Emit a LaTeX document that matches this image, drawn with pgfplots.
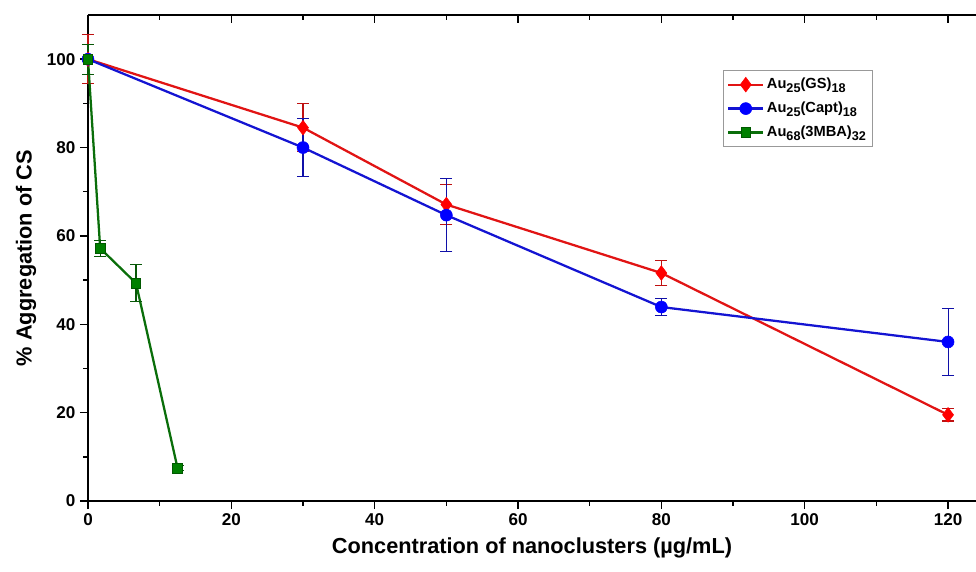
\documentclass[border=0pt]{standalone}
\usepackage{pgfplots}
\pgfplotsset{compat=1.18}
\usepackage{fontspec}
\setmainfont{Liberation Sans}
\definecolor{cred}{RGB}{225,20,20}
\definecolor{cblue}{RGB}{20,20,210}
\definecolor{cgreen}{RGB}{10,110,10}
\newcommand{\sub}[1]{\raisebox{-0.45ex}{\fontsize{9.5}{10}\selectfont #1}}
\begin{document}
\begin{tikzpicture}
\pgfplotsset{
  common/.style={
    scale only axis, width=666pt, height=364.5pt,
    xmin=0, xmax=123.9, ymin=0, ymax=110,
    xtick={0,20,...,120}, ytick={0,20,...,100},
    minor x tick num=1, minor y tick num=1,
    /pgf/number format/assume math mode=true,
    major tick length=6pt, minor tick length=3.5pt,
    every tick/.style={black, line width=1.1pt},
  }
}
\begin{axis}[common, name=ax,
  axis y line*=left,
  axis line style={line width=1.4pt, black},
  xtick pos=bottom, tick align=outside,
  clip=false,
  ticklabel style={font=\bfseries\fontsize{12.8}{14}\selectfont},
  xlabel={\bfseries\fontsize{16.3}{18}\selectfont Concentration of nanoclusters (µg/mL)},
  ylabel={\bfseries\fontsize{16.3}{18}\selectfont \% Aggregation of CS},
  xlabel style={yshift=-2pt},
  ylabel style={yshift=1pt},
  legend style={at={(0.715,0.887)}, anchor=north west, draw=gray!80, line width=0.6pt,
    font=\bfseries\fontsize{11}{13}\selectfont, row sep=4.5pt, inner ysep=4pt, inner xsep=3pt},
  legend cell align=left,
  legend image code/.code={\draw[#1] (0pt,0pt) -- (26pt,0pt); \path[#1] plot coordinates {(13pt,0pt)};},
  error bars/error bar style={line width=0.8pt},
  error bars/error mark options={rotate=90, mark size=4.5pt, line width=0.8pt},
]
\addplot[color=cred, line width=1.7pt, mark=diamond*, mark size=5.5pt,
  mark options={fill=red, draw=red, line width=0.4pt},
  error bars/.cd, y dir=both, y explicit,
  error bar style={color=cred!85!black}]
  coordinates {(0,100) +- (0,5.5) (30,84.5) +- (0,5.5) (50,67.1) +- (0,4.5) (80,51.6) +- (0,2.9) (120,19.5) +- (0,1.4)};
\addlegendentry{Au\sub{25}(GS)\sub{18}}
\addplot[color=cblue, line width=1.7pt, mark=*, mark size=4.5pt,
  mark options={fill=blue, draw=blue, line width=0.4pt},
  error bars/.cd, y dir=both, y explicit,
  error bar style={color=cblue!80!black}]
  coordinates {(0,100) +- (0,0) (30,80.0) +- (0,6.6) (50,64.7) +- (0,8.3) (80,43.9) +- (0,1.9) (120,36.0) +- (0,7.6)};
\addlegendentry{Au\sub{25}(Capt)\sub{18}}
\addplot[color=cgreen, line width=1.7pt, mark=square*, mark size=3.6pt,
  mark options={fill=green!50!black, draw=green!35!black, line width=0.5pt},
  error bars/.cd, y dir=both, y explicit,
  error bar style={color=cgreen!80!black}]
  coordinates {(0,100) +- (0,3.4) (1.7,57.2) +- (0,1.8) (6.7,49.3) +- (0,4.2) (12.5,7.4) +- (0,0.6)};
\addlegendentry{Au\sub{68}(3MBA)\sub{32}}
\end{axis}
\begin{axis}[common,
  axis x line*=top, hide y axis,
  xtick pos=top, tick align=inside, xticklabels={},
  axis line style={line width=1.4pt, black},
]
\addplot[draw=none] coordinates {(0,0)};
\end{axis}
\pgfresetboundingbox
\path[use as bounding box] ([xshift=-66pt,yshift=-53.25pt]ax.south west) rectangle ([yshift=11.25pt]ax.north east);
\end{tikzpicture}
\end{document}
